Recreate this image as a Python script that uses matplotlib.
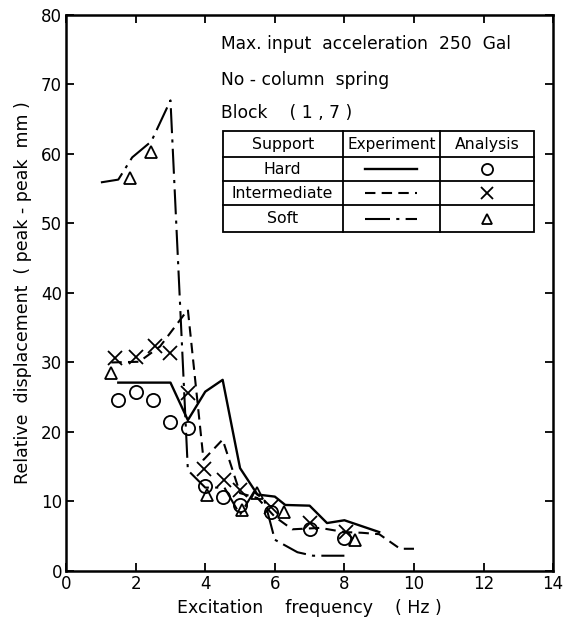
import numpy as np
import matplotlib.pyplot as plt
from matplotlib.patches import Rectangle

# experiment curves (Hz, mm)
hard_x = [1.5, 3.0, 3.5, 4.0, 4.5, 5.0, 5.5, 6.0, 6.3, 7.0, 7.5, 8.0, 9.0]
hard_y = [27.1, 27.1, 21.7, 25.8, 27.5, 14.8, 11.0, 10.7, 9.5, 9.4, 6.9, 7.3, 5.6]

inter_x = [1.3, 2.1, 2.7, 3.5, 3.95, 4.5, 5.0, 5.5, 6.0, 6.5, 7.3, 8.0, 8.5, 9.0, 9.6, 10.0]
inter_y = [30.0, 30.1, 32.3, 37.6, 16.0, 18.9, 11.2, 10.5, 7.8, 6.0, 6.2, 5.6, 5.5, 5.3, 3.2, 3.2]

soft_x = [1.0, 1.5, 1.9, 2.45, 3.0, 3.5, 3.8, 4.0, 4.55, 5.0, 5.4, 5.7, 6.0, 6.65, 7.1, 8.0]
soft_y = [55.9, 56.3, 59.5, 61.8, 67.7, 14.5, 13.0, 12.0, 12.0, 8.1, 11.4, 10.2, 4.5, 2.7, 2.2, 2.2]

# analysis points
hard_ax = [1.5, 2.0, 2.5, 3.0, 3.5, 4.0, 4.5, 5.0, 5.9, 7.0, 8.0]
hard_ay = [24.6, 25.8, 24.6, 21.5, 20.6, 12.3, 10.6, 9.5, 8.5, 6.0, 4.7]

inter_ax = [1.4, 2.0, 2.55, 3.0, 3.5, 3.95, 4.55, 5.0, 5.9, 7.0, 8.05]
inter_ay = [30.7, 30.8, 32.3, 31.4, 25.6, 14.7, 13.1, 11.7, 9.2, 6.9, 5.6]

soft_ax = [1.3, 1.85, 2.45, 4.05, 5.05, 5.5, 6.25, 8.3]
soft_ay = [28.5, 56.6, 60.3, 11.0, 8.8, 11.2, 8.5, 4.5]

x_ticks = [0, 2, 4, 6, 8, 10, 12, 14]
y_ticks = [0, 10, 20, 30, 40, 50, 60, 70, 80]

support = ['Hard', 'Intermediate', 'Soft']

plt.rcParams['font.family'] = ['DejaVu Sans']

fig = plt.figure(figsize=(5.65, 6.27), dpi=100)
ax = fig.add_axes([0.117, 0.0893, 0.862, 0.887])

solid = dict(color='black', lw=1.7, linestyle='-')
dashed = dict(color='black', lw=1.5, linestyle=(0, (5, 3)))
dashdot = dict(color='black', lw=1.5, linestyle=(0, (12, 3, 1.5, 3)))
mk = dict(linestyle='none', color='black', markerfacecolor='none',
          markeredgewidth=1.3, markersize=9.5)

ax.plot(hard_x, hard_y, **solid)
ax.plot(inter_x, inter_y, **dashed)
ax.plot(soft_x, soft_y, **dashdot)

ax.plot(hard_ax, hard_ay, marker='o', **mk)
ax.plot(inter_ax, inter_ay, marker='x', **mk)
ax.plot(soft_ax, soft_ay, marker='^', **dict(mk, markersize=8))

ax.set_xlim(0, 14)
ax.set_ylim(0, 80)
ax.set_xticks(x_ticks)
ax.set_yticks(y_ticks)
ax.tick_params(direction='in', length=6, width=1.3, top=True, right=True,
               labelsize=12, pad=3)
for s in ax.spines.values():
    s.set_linewidth(1.8)

ax.set_xlabel('Excitation    frequency    ( Hz )', fontsize=12.5, labelpad=4)
ax.set_ylabel('Relative  displacement  ( peak - peak  mm )', fontsize=12.5, labelpad=6)

# header text
ax.text(4.45, 75.8, 'Max. input  acceleration  250  Gal', fontsize=12.3, va='center')
ax.text(4.45, 70.7, 'No - column  spring', fontsize=12.3, va='center')
ax.text(4.45, 65.9, 'Block    ( 1 , 7 )', fontsize=12.3, va='center')

# legend table
cols = [4.5, 7.95, 10.75, 13.45]
rows = [63.3, 59.5, 56.1, 52.6, 48.8]
ax.add_patch(Rectangle((cols[0], rows[-1]), cols[-1] - cols[0], rows[0] - rows[-1],
                       fill=False, lw=1.3, color='black'))
for c in cols[1:-1]:
    ax.plot([c, c], [rows[-1], rows[0]], color='black', lw=1.3)
for r in rows[1:-1]:
    ax.plot([cols[0], cols[-1]], [r, r], color='black', lw=1.3)

hdr_y = (rows[0] + rows[1]) / 2
ax.text((cols[0] + cols[1]) / 2, hdr_y, 'Support', ha='center', va='center', fontsize=11.3)
ax.text((cols[1] + cols[2]) / 2, hdr_y, 'Experiment', ha='center', va='center', fontsize=11)
ax.text((cols[2] + cols[3]) / 2, hdr_y, 'Analysis', ha='center', va='center', fontsize=11.3)

styles = [solid, dashed, dashdot]
markers = ['o', 'x', '^']
for i, name in enumerate(support):
    yc = (rows[i + 1] + rows[i + 2]) / 2
    ax.text((cols[0] + cols[1]) / 2, yc, name, ha='center', va='center', fontsize=11.3)
    ax.plot([8.6, 10.1], [yc, yc], **styles[i])
    ax.plot([(cols[2] + cols[3]) / 2], [yc], marker=markers[i],
            **dict(mk, markersize=7.5 if i == 2 else 8))

fig.savefig('out.png', dpi=100)
